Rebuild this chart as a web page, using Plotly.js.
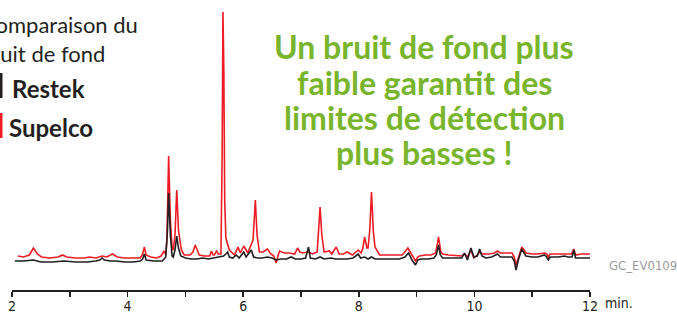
<!DOCTYPE html>
<html>
<head>
<meta charset="utf-8">
<script src="https://cdn.plot.ly/plotly-3.0.1.min.js"></script>
<style>html,body{margin:0;padding:0;background:#fff;}#chart{width:677px;height:314px;}</style>
</head>
<body>
<div id="chart"></div>
<script>
// Retention time (min) and detector response (arbitrary units)
const supelcoTime = [2.10,2.20,2.30,2.37,2.44,2.51,2.65,2.80,2.87,2.95,3.10,3.25,3.34,3.45,3.56,3.64,3.74,3.82,3.95,4.10,4.22,4.26,4.29,4.32,4.40,4.50,4.58,4.63,4.66,4.68,4.71,4.74,4.77,4.79,4.82,4.85,4.88,4.93,4.98,5.08,5.13,5.17,5.21,5.24,5.33,5.42,5.45,5.48,5.50,5.54,5.57,5.615,5.635,5.65,5.665,5.68,5.70,5.76,5.85,5.91,5.95,6.01,6.08,6.14,6.17,6.21,6.24,6.28,6.34,6.42,6.48,6.53,6.57,6.60,6.63,6.71,6.80,6.89,6.94,6.98,7.03,7.12,7.20,7.28,7.33,7.36,7.40,7.49,7.53,7.61,7.66,7.73,7.80,7.89,7.99,8.04,8.07,8.10,8.14,8.16,8.19,8.22,8.25,8.28,8.36,8.47,8.55,8.65,8.75,8.81,8.85,8.91,8.96,8.98,9.02,9.05,9.15,9.25,9.33,9.38,9.42,9.45,9.55,9.70,9.78,9.83,9.88,9.94,9.99,10.05,10.09,10.14,10.25,10.35,10.40,10.45,10.55,10.65,10.69,10.72,10.76,10.80,10.82,10.86,10.89,11.00,11.10,11.21,11.25,11.28,11.31,11.45,11.56,11.62,11.68,11.72,11.75,11.85,12.00];
const supelcoSignal = [34,33,35,42,36,33,32,33,35,33,32,32,33,32,34,33,36,33,32,32,32,36,43,35,33,32,34,39,35,50,134,70,42,40,55,100,60,40,35,35,38,45,38,35,34,34,39,35,35,39,36,36,130,278,220,90,52,40,35,43,37,44,37,45,50,90,55,38,38,41,36,34,27,34,39,37,37,36,42,38,37,38,36,38,83,55,38,39,36,43,36,36,38,35,40,37,42,53,42,42,60,98,60,43,35,35,35,35,35,39,42,36,30,29,33,34,35,35,37,53,38,36,35,34,34,36,33,40,32,35,38,36,36,37,39,37,37,37,33,25,32,40,43,40,37,36,36,37,36,33,36,36,36,36,36,41,35,36,36];

const restekTime = [2.05,2.20,2.37,2.50,2.70,2.90,3.10,3.30,3.45,3.52,3.56,3.60,3.70,3.80,3.95,4.10,4.22,4.26,4.29,4.32,4.45,4.60,4.66,4.69,4.71,4.74,4.77,4.79,4.82,4.85,4.88,4.92,5.00,5.10,5.20,5.30,5.40,5.50,5.60,5.66,5.70,5.73,5.76,5.82,5.88,5.93,6.01,6.05,6.14,6.18,6.25,6.33,6.42,6.50,6.57,6.65,6.75,6.83,6.90,6.94,7.00,7.08,7.13,7.16,7.25,7.33,7.40,7.52,7.60,7.70,7.80,7.90,7.99,8.03,8.10,8.16,8.22,8.28,8.40,8.55,8.70,8.80,8.86,8.92,8.98,9.02,9.08,9.20,9.30,9.34,9.38,9.41,9.45,9.55,9.70,9.78,9.83,9.88,9.94,9.99,10.05,10.09,10.13,10.20,10.30,10.40,10.45,10.55,10.65,10.69,10.72,10.76,10.80,10.82,10.86,10.89,11.00,11.10,11.21,11.25,11.28,11.31,11.45,11.56,11.62,11.69,11.72,11.75,11.85,12.00];
const restekSignal = [29,29,30,28,28,29,28,28,29,30,32,30,29,29,28,28,29,31,36,30,29,29,33,60,97,55,34,33,40,54,42,34,32,31,31,32,31,32,33,34,36,38,33,32,35,32,38,33,40,33,32,32,33,32,30,31,31,33,31,31,31,32,43,32,31,33,31,32,31,31,31,32,36,32,33,31,33,31,31,31,31,33,37,30,25,30,31,31,32,35,45,35,32,32,32,32,37,30,42,33,34,41,34,32,33,36,33,33,33,29,20,30,38,41,37,34,33,33,35,33,30,33,33,34,33,33,40,32,32,32];

const tickValues = [2,3,4,5,6,7,8,9,10,11,12];
const tickLabels = ['2','','4','','6','','8','','10','','12'];
const seriesNames = ['Restek','Supelco'];
const titleLines = ['Comparaison du','bruit de fond'];
const messageLines = ['Un bruit de fond plus','faible garantit des','limites de détection','plus basses !'];
const codeText = 'GC_EV01092';
const unitText = 'min.';

const W = 677, H = 314, ML = 12, MR = 87, MT = 10, MB = 24;
const PW = W - ML - MR, PH = H - MT - MB;
const px = x => (x - ML) / PW;
const py = y => (H - MB - y) / PH;

const red = '#ed1c24', black = '#231f20', green = '#79b52c';
const sans = 'Lato, "Open Sans", sans-serif';
const narrow = '"Liberation Sans Narrow", "DejaVu Sans Condensed", Roboto, sans-serif';

const traces = [
  {x: supelcoTime, y: supelcoSignal, type: 'scatter', mode: 'lines', name: seriesNames[1],
   line: {color: red, width: 1.6}, hoverinfo: 'skip'},
  {x: restekTime, y: restekSignal, type: 'scatter', mode: 'lines', name: seriesNames[0],
   line: {color: black, width: 1.6}, hoverinfo: 'skip'}
];

const annotations = [
  {x: px(140), y: py(24), xanchor: 'right', text: titleLines[0], font: {family: sans, size: 22, color: black}},
  {x: px(107), y: py(53), xanchor: 'right', text: titleLines[1], font: {family: sans, size: 22, color: black}},
  {x: px(10), y: py(88), xanchor: 'left', text: '<b>' + seriesNames[0] + '</b>', font: {family: sans, size: 24, color: black}},
  {x: px(7), y: py(128), xanchor: 'left', text: '<b>' + seriesNames[1] + '</b>', font: {family: sans, size: 24, color: black}},
  {x: px(607), y: py(265), xanchor: 'left', text: codeText, font: {family: narrow, size: 13, color: '#9b9b9b'}},
  {x: px(603), y: py(303), xanchor: 'left', text: unitText, font: {family: narrow, size: 14, color: black}}
];
const msgY = [47, 82, 117, 152];
messageLines.forEach((t, i) => annotations.push(
  {x: px(424), y: py(msgY[i]), xanchor: 'center', text: '<b>' + t + '</b>', font: {family: sans, size: 32, color: green}}
));
annotations.forEach(a => Object.assign(a, {xref: 'paper', yref: 'paper', yanchor: 'middle', showarrow: false}));

const layout = {
  width: W, height: H,
  margin: {l: ML, r: MR, t: MT, b: MB, pad: 0},
  paper_bgcolor: '#fff', plot_bgcolor: '#fff',
  showlegend: false,
  xaxis: {
    range: [2, 12], showgrid: false, zeroline: false,
    showline: true, linecolor: black, linewidth: 1.5,
    ticks: 'outside', ticklen: 5, tickwidth: 1.5, tickcolor: black,
    tickvals: tickValues, ticktext: tickLabels, ticklabelstandoff: -2,
    tickfont: {family: narrow, size: 14, color: black}
  },
  yaxis: {range: [0, 280], visible: false, showgrid: false, zeroline: false, fixedrange: true},
  shapes: [
    {type: 'rect', xref: 'paper', yref: 'paper', x0: px(0), x1: px(2.5), y0: py(98), y1: py(73), fillcolor: black, line: {width: 0}},
    {type: 'rect', xref: 'paper', yref: 'paper', x0: px(0), x1: px(2.5), y0: py(138), y1: py(113), fillcolor: red, line: {width: 0}}
  ],
  annotations: annotations
};

Plotly.newPlot('chart', traces, layout, {displayModeBar: false, staticPlot: true});
</script>
</body>
</html>
